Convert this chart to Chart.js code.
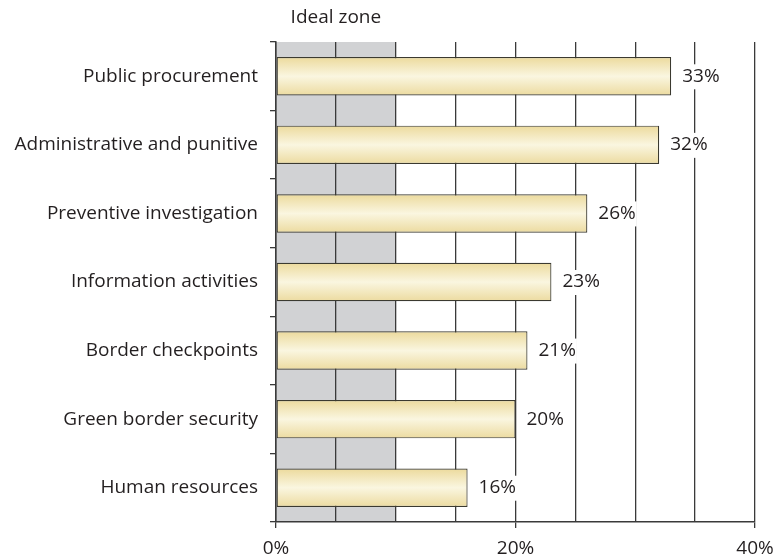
<!DOCTYPE html>
<html>
<head>
<meta charset="utf-8">
<script src="https://cdn.jsdelivr.net/npm/chart.js@4.4.1/dist/chart.umd.min.js"></script>
<style>
  html, body { margin: 0; padding: 0; background: #fff; }
  #wrap { width: 779px; height: 560px; position: relative; }
</style>
</head>
<body>
<div id="wrap"><canvas id="barChart"></canvas></div>
<script>
// Horizontal bar chart with the shaded "ideal zone"

var categories = ['Public procurement', 'Administrative and punitive', 'Preventive investigation',
    'Information activities', 'Border checkpoints', 'Green border security', 'Human resources'];
var shares = [33, 32, 26, 23, 21, 20, 16];
var axisLabels = [0, 20, 40];
var idealZone = [0, 10];

var FONT = '"Open Sans", "DejaVu Sans", sans-serif';
var INK = '#231f20';

function barFill(context) {
    var chart = context.chart;
    var area = chart.chartArea;
    if (!area) return '#f3e8bd';
    var y = chart.scales.y;
    var cy = y.getPixelForValue(context.dataIndex);
    var h = (area.bottom - area.top) / categories.length * 0.56;
    var g = chart.ctx.createLinearGradient(0, cy - h / 2, 0, cy + h / 2);
    g.addColorStop(0, '#ecda9c');
    g.addColorStop(0.5, '#faf6e0');
    g.addColorStop(1, '#ecdba0');
    return g;
}

// grey band behind the grid + its caption
var zonePlugin = {
    id: 'zone',
    beforeDraw: function (chart) {
        var ctx = chart.ctx, a = chart.chartArea, x = chart.scales.x;
        var x0 = x.getPixelForValue(idealZone[0]);
        var x1 = x.getPixelForValue(idealZone[1]);
        ctx.save();
        ctx.fillStyle = '#d1d2d4';
        ctx.fillRect(x0, a.top, x1 - x0, a.bottom - a.top);
        ctx.fillStyle = INK;
        ctx.font = '19px ' + FONT;
        ctx.textAlign = 'center';
        ctx.textBaseline = 'middle';
        ctx.fillText('Ideal zone', (x0 + x1) / 2, 18);
        ctx.restore();
    }
};

// percentage labels at the end of each bar
var valueLabels = {
    id: 'valueLabels',
    afterDatasetsDraw: function (chart) {
        var ctx = chart.ctx;
        var meta = chart.getDatasetMeta(0);
        ctx.save();
        ctx.font = '19px ' + FONT;
        ctx.textBaseline = 'middle';
        ctx.textAlign = 'left';
        meta.data.forEach(function (bar, i) {
            var txt = shares[i] + '%';
            var w = ctx.measureText(txt).width;
            var tx = bar.x + 11;
            ctx.fillStyle = '#fff';
            ctx.fillRect(tx - 1, bar.y - 12, w + 2, 25);
            ctx.fillStyle = INK;
            ctx.fillText(txt, tx, bar.y);
        });
        ctx.restore();
    }
};

var ctx = document.getElementById('barChart').getContext('2d');
var myChart = new Chart(ctx, {
    type: 'bar',
    data: {
        labels: categories,
        datasets: [{
            data: shares,
            backgroundColor: barFill,
            borderColor: '#3b3a30',
            borderWidth: 1.2,
            borderSkipped: false,
            barPercentage: 0.56,
            categoryPercentage: 1
        }]
    },
    options: {
        indexAxis: 'y',
        responsive: true,
        maintainAspectRatio: false,
        animation: false,
        layout: { padding: { top: 42, right: 24, left: 0, bottom: 0 } },
        plugins: {
            legend: { display: false },
            tooltip: { enabled: false }
        },
        scales: {
            x: {
                min: 0,
                max: 40,
                afterFit: function (scale) {
                    scale.height = 38;
                    scale.paddingLeft = 0;
                    scale.paddingRight = 0;
                },
                ticks: {
                    stepSize: 5,
                    autoSkip: false,
                    maxRotation: 0,
                    padding: 9,
                    color: INK,
                    font: { family: FONT, size: 19 },
                    callback: function (v) {
                        return axisLabels.indexOf(v) >= 0 ? v + '%' : '';
                    }
                },
                grid: {
                    color: '#3a3a3a',
                    lineWidth: 1.3,
                    tickLength: 6,
                    tickColor: function (c) {
                        return axisLabels.indexOf(c.tick && c.tick.value) >= 0 ? '#3a3a3a' : 'rgba(0,0,0,0)';
                    }
                },
                border: { color: '#3a3a3a', width: 1.5 }
            },
            y: {
                afterFit: function (scale) { scale.width = 276; },
                ticks: {
                    padding: 12,
                    color: INK,
                    font: { family: FONT, size: 19 }
                },
                grid: {
                    offset: true,
                    drawOnChartArea: false,
                    tickLength: 6,
                    tickColor: '#3a3a3a',
                    lineWidth: 1.3
                },
                border: { color: '#3a3a3a', width: 1.5 }
            }
        }
    },
    plugins: [zonePlugin, valueLabels]
});
</script>
</body>
</html>
